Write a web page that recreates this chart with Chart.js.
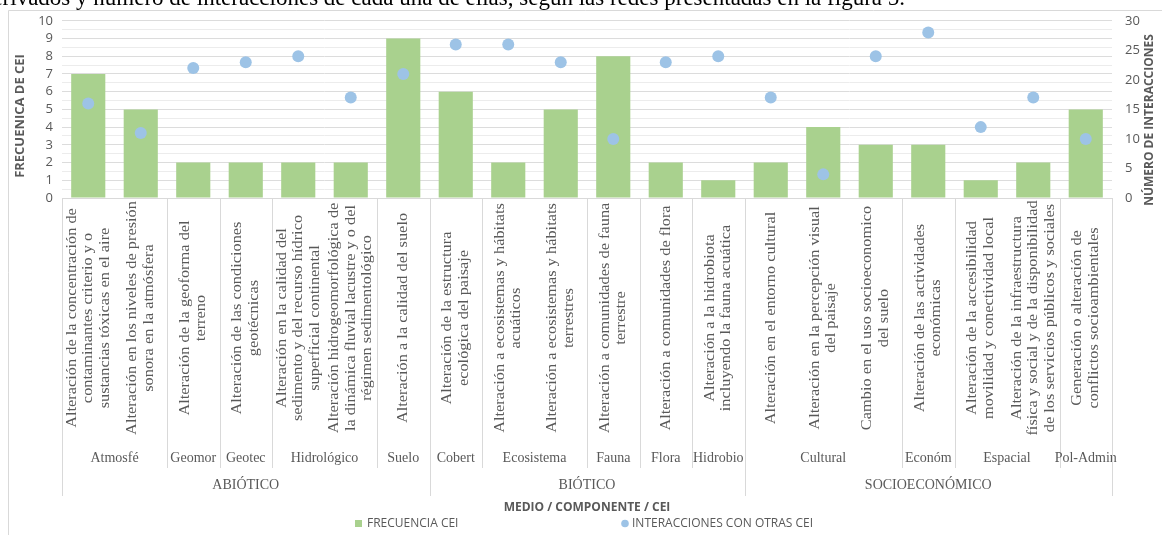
<!DOCTYPE html>
<html>
<head>
<meta charset="utf-8">
<script src="https://cdn.jsdelivr.net/npm/chart.js@4.4.1/dist/chart.umd.min.js"></script>
<style>
  html, body { margin: 0; padding: 0; background: #fff; }
  #wrap { width: 1162px; height: 535px; }
</style>
</head>
<body>
<div id="wrap"><canvas id="grafico" width="1162" height="535"></canvas></div>
<script>
// categorias (CEI), cada una partida en lineas como en el original
const categorias = [
    ["Alteración de la concentración de", "contaminantes criterio y o", "sustancias tóxicas en el aire"],
    ["Alteración en los niveles de presión", "sonora en la atmósfera"],
    ["Alteración de la geoforma del", "terreno"],
    ["Alteración de las condiciones", "geotécnicas"],
    ["Alteración en la calidad del", "sedimento y del recurso hídrico", "superficial continental"],
    ["Alteración hidrogeomorfológica de", "la dinámica fluvial lacustre y o del", "régimen sedimentológico"],
    ["Alteración a la calidad del suelo"],
    ["Alteración de la estructura", "ecológica del paisaje"],
    ["Alteración a ecosistemas y hábitats", "acuáticos"],
    ["Alteración a ecosistemas y hábitats", "terrestres"],
    ["Alteración a comunidades de fauna", "terrestre"],
    ["Alteración a comunidades de flora"],
    ["Alteración a la hidrobiota", "incluyendo la fauna acuática"],
    ["Alteración en el entorno cultural"],
    ["Alteración en la percepción visual", "del paisaje"],
    ["Cambio en el uso socioeconomico", "del suelo"],
    ["Alteración de las actividades", "económicas"],
    ["Alteración de la accesibilidad", "movilidad y conectividad local"],
    ["Alteración de la infraestructura", "física y social y de la disponibilidad", "de los servicios públicos y sociales"],
    ["Generación o alteración de", "conflictos socioambientales"],
];

const componentes = ["Atmosfé", "Geomor", "Geotec", "Hidrológico", "Suelo", "Cobert", "Ecosistema",
    "Fauna", "Flora", "Hidrobio", "Cultural", "Económ", "Espacial", "Pol-Admin"];
const componentesSpan = [2, 1, 1, 2, 1, 1, 2, 1, 1, 1, 3, 1, 2, 1];

const medios = ["ABIÓTICO", "BIÓTICO", "SOCIOECONÓMICO"];
const mediosSpan = [7, 6, 7];

const frecuencia = [7, 5, 2, 2, 2, 2, 9, 6, 2, 5, 8, 2, 1, 2, 4, 3, 3, 1, 2, 5];
const interacciones = [16, 11, 22, 23, 24, 17, 21, 26, 26, 23, 10, 23, 24, 17, 4, 24, 28, 12, 17, 10];

const ticksIzq = [0, 1, 2, 3, 4, 5, 6, 7, 8, 9, 10];
// lineas de division secundarias (medias unidades)
const lineasMenores = [0.5, 1.5, 2.5, 3.5, 4.5, 5.5, 6.5, 7.5, 8.5, 9.5];
const ticksDer = [0, 5, 10, 15, 20, 25, 30];

const textoSuperior = "derivados y número de interacciones de cada una de ellas, según las redes presentadas en la figura 5.";

const VERDE = "#A9D18E";
const AZUL = "#9DC3E6";
const GRIS = "#595959";
const LINEA = "#D9D9D9";

// dibuja marco, etiquetas multinivel, titulos y leyenda
const extrasExcel = {
    id: "extrasExcel",
    beforeDraw(chart) {
        const c = chart.ctx;
        c.save();
        c.fillStyle = "#fff";
        c.fillRect(0, 0, chart.width, chart.height);
        // marco del grafico
        c.strokeStyle = LINEA;
        c.lineWidth = 1;
        c.beginPath();
        c.moveTo(8.5, chart.height);
        c.lineTo(8.5, 10.5);
        c.lineTo(chart.width, 10.5);
        c.stroke();
        // texto del documento cortado arriba
        c.font = '23px "Liberation Serif"';
        c.fillStyle = "#000";
        c.textBaseline = "alphabetic";
        c.textAlign = "left";
        const w = c.measureText(textoSuperior).width;
        c.fillText(textoSuperior, 905 - w, 5);
        c.restore();
    },
    afterDraw(chart) {
        const c = chart.ctx;
        const x = chart.scales.x;
        const area = chart.chartArea;
        const paso = x.getPixelForValue(1) - x.getPixelForValue(0);
        c.save();
        c.fillStyle = GRIS;

        // etiquetas de categoria, rotadas
        c.font = '15px "Liberation Serif"';
        c.textAlign = "center";
        c.textBaseline = "middle";
        categorias.forEach((lineas, i) => {
            const cx = x.getPixelForValue(i);
            c.save();
            c.translate(cx, 318);
            c.rotate(-Math.PI / 2);
            c.scale(1.09, 1);
            lineas.forEach((t, j) => {
                c.fillText(t, 0, (j - (lineas.length - 1) / 2) * 16.5);
            });
            c.restore();
        });

        // separadores y nombres de componente
        c.strokeStyle = LINEA;
        c.lineWidth = 1;
        c.font = '14px "Liberation Serif"';
        let ini = 0;
        componentes.forEach((nombre, k) => {
            const x0 = x.getPixelForValue(ini) - paso / 2;
            const x1 = x.getPixelForValue(ini + componentesSpan[k] - 1) + paso / 2;
            c.beginPath();
            c.moveTo(Math.round(x0) + 0.5, area.bottom);
            c.lineTo(Math.round(x0) + 0.5, 468);
            c.stroke();
            c.fillText(nombre, (x0 + x1) / 2, 458);
            ini += componentesSpan[k];
        });

        ini = 0;
        medios.forEach((nombre, k) => {
            const x0 = x.getPixelForValue(ini) - paso / 2;
            const x1 = x.getPixelForValue(ini + mediosSpan[k] - 1) + paso / 2;
            c.beginPath();
            c.moveTo(Math.round(x0) + 0.5, area.bottom);
            c.lineTo(Math.round(x0) + 0.5, 496);
            c.stroke();
            if (k === medios.length - 1) {
                c.beginPath();
                c.moveTo(Math.round(x1) + 0.5, area.bottom);
                c.lineTo(Math.round(x1) + 0.5, 496);
                c.stroke();
            }
            c.fillText(nombre, (x0 + x1) / 2, 485);
            ini += mediosSpan[k];
        });

        // titulos de ejes
        c.font = 'bold 12px "Open Sans"';
        c.save();
        c.translate(21, 116);
        c.rotate(-Math.PI / 2);
        c.scale(1.08, 1);
        c.fillText("FRECUENICA DE CEI", 0, 0);
        c.restore();
        c.save();
        c.translate(1150, 120);
        c.rotate(-Math.PI / 2);
        c.fillText("NÚMERO DE INTERACCIONES", 0, 0);
        c.restore();
        c.fillText("MEDIO / COMPONENTE / CEI", (area.left + area.right) / 2, 508);

        // leyenda
        c.font = '12px "Open Sans"';
        c.textAlign = "left";
        c.fillStyle = VERDE;
        c.fillRect(355, 520, 7, 7);
        c.fillStyle = GRIS;
        c.fillText("FRECUENCIA CEI", 367, 524);
        c.fillStyle = AZUL;
        c.beginPath();
        c.arc(625, 523.5, 3.8, 0, Math.PI * 2);
        c.fill();
        c.fillStyle = GRIS;
        c.fillText("INTERACCIONES CON OTRAS CEI", 632, 524);
        c.restore();
    }
};

new Chart(document.getElementById("grafico"), {
    data: {
        labels: categorias,
        datasets: [
            {
                type: "line",
                label: "INTERACCIONES CON OTRAS CEI",
                data: interacciones,
                yAxisID: "y1",
                showLine: false,
                pointRadius: 6,
                pointBorderWidth: 0,
                pointBackgroundColor: AZUL,
                order: 0,
            },
            {
                type: "bar",
                label: "FRECUENCIA CEI",
                data: frecuencia,
                yAxisID: "y",
                backgroundColor: VERDE,
                categoryPercentage: 1,
                barPercentage: 0.65,
                order: 1,
            },
        ],
    },
    options: {
        responsive: false,
        animation: false,
        devicePixelRatio: 1,
        layout: { padding: { top: 19, left: 0, right: 0, bottom: 0 } },
        plugins: { legend: { display: false }, tooltip: { enabled: false } },
        scales: {
            x: {
                ticks: { display: false },
                grid: { display: false },
                border: { display: true, color: LINEA },
                afterFit: (s) => { s.height = 337; },
            },
            y: {
                position: "left",
                min: 0,
                max: 10,
                afterBuildTicks: (s) => {
                    s.ticks = ticksIzq.concat(lineasMenores)
                        .sort((a, b) => a - b)
                        .map((v) => ({ value: v }));
                },
                ticks: {
                    autoSkip: false,
                    padding: 9,
                    color: GRIS,
                    font: { family: "Open Sans", size: 13 },
                    callback: (v) => (ticksIzq.includes(v) ? v : ""),
                },
                grid: {
                    drawTicks: false,
                    color: (ctx) => (ticksIzq.includes(ctx.tick.value) ? "#DCDCDC" : "#ECECEC"),
                },
                border: { display: false },
                afterFit: (s) => { s.width = 62; },
            },
            y1: {
                position: "right",
                min: 0,
                max: 30,
                afterBuildTicks: (s) => { s.ticks = ticksDer.map((v) => ({ value: v })); },
                ticks: {
                    autoSkip: false,
                    padding: 13,
                    color: GRIS,
                    font: { family: "Open Sans", size: 13 },
                },
                grid: { display: false, drawTicks: false },
                border: { display: false },
                afterFit: (s) => { s.width = 50; },
            },
        },
    },
    plugins: [extrasExcel],
});
</script>
</body>
</html>
